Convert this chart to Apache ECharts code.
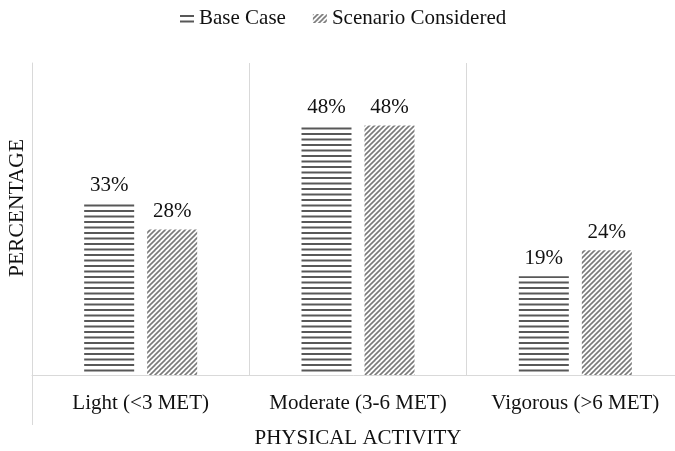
<!DOCTYPE html>
<html>
<head>
<meta charset="utf-8">
<script src="https://cdn.jsdelivr.net/npm/echarts@6/dist/echarts.min.js"></script>
<style>
  html, body { margin: 0; padding: 0; background: #fff; }
  #chart { width: 675px; height: 451px; }
</style>
</head>
<body>
<div id="chart"></div>
<script>
// Activity intensity categories and the share of time spent in each
const categories = ['Light (<3 MET)', 'Moderate (3-6 MET)', 'Vigorous (>6 MET)'];
const baseCase = [33, 48, 19];
const scenario = [28, 48, 24];
const seriesNames = ['Base Case', 'Scenario Considered'];

const FONT = '"Liberation Serif", "Times New Roman", serif';
const TEXT = '#111';

// Horizontal stripe fill
function stripePattern() {
  const c = document.createElement('canvas');
  c.width = 4; c.height = 11;
  const g = c.getContext('2d');
  g.fillStyle = '#fff';
  g.fillRect(0, 0, 4, 11);
  g.fillStyle = '#585858';
  g.fillRect(0, 1, 4, 2);
  g.fillRect(0, 6.5, 4, 2);
  return c;
}

// Diagonal "/" hatch fill
function hatchPattern() {
  const s = 5;
  const c = document.createElement('canvas');
  c.width = s; c.height = s;
  const g = c.getContext('2d');
  g.fillStyle = '#fff';
  g.fillRect(0, 0, s, s);
  g.strokeStyle = '#7a7a7a';
  g.lineWidth = 1.6;
  for (const off of [-s, 0, s]) {
    g.beginPath();
    g.moveTo(off - 1, s + 1);
    g.lineTo(off + s + 1, -1);
    g.stroke();
  }
  return c;
}

const chart = echarts.init(document.getElementById('chart'));

const labelStyle = {
  show: true,
  position: 'top',
  distance: 7,
  formatter: p => p.value + '%',
  fontFamily: FONT,
  fontSize: 21,
  color: TEXT
};

chart.setOption({
  animation: false,
  legend: {
    left: 175,
    top: 3,
    itemWidth: 14,
    itemHeight: 9,
    itemGap: 27,
    icon: 'rect',
    textStyle: { fontFamily: FONT, fontSize: 21, color: TEXT },
    data: seriesNames
  },
  // plot area runs a little past the right edge of the canvas
  grid: {
    left: 32, width: 652, top: 63, height: 312,
    containLabel: false,
    outerBoundsMode: 'none'
  },
  xAxis: {
    type: 'category',
    data: categories,
    name: 'PHYSICAL ACTIVITY',
    nameLocation: 'middle',
    nameGap: 53,
    nameTextStyle: { fontFamily: FONT, fontSize: 21, color: TEXT },
    axisLine: { lineStyle: { color: '#d9d9d9', width: 1 } },
    axisTick: {
      show: true,
      length: 50,
      interval: (index) => index === 0,
      lineStyle: { color: '#d9d9d9' }
    },
    splitLine: { show: true, interval: 0, lineStyle: { color: '#d9d9d9' } },
    axisLabel: { interval: 0, fontFamily: FONT, fontSize: 21, color: TEXT, margin: 18 }
  },
  yAxis: {
    type: 'value',
    min: 0,
    max: 60,
    name: 'PERCENTAGE',
    nameLocation: 'middle',
    nameGap: 4,
    nameTextStyle: {
      fontFamily: FONT, fontSize: 21.5, color: TEXT,
      padding: [0, 0, 0, 22]
    },
    axisLine: { show: true, lineStyle: { color: '#d9d9d9' } },
    axisTick: { show: false },
    axisLabel: { show: false },
    splitLine: { show: false }
  },
  series: [
    {
      name: seriesNames[0],
      type: 'bar',
      data: baseCase,
      barWidth: 50,
      barGap: '26%',
      itemStyle: { color: { image: stripePattern(), repeat: 'repeat' } },
      label: labelStyle
    },
    {
      name: seriesNames[1],
      type: 'bar',
      data: scenario,
      barWidth: 50,
      barGap: '26%',
      itemStyle: { color: { image: hatchPattern(), repeat: 'repeat' } },
      label: labelStyle
    }
  ]
});
</script>
</body>
</html>
